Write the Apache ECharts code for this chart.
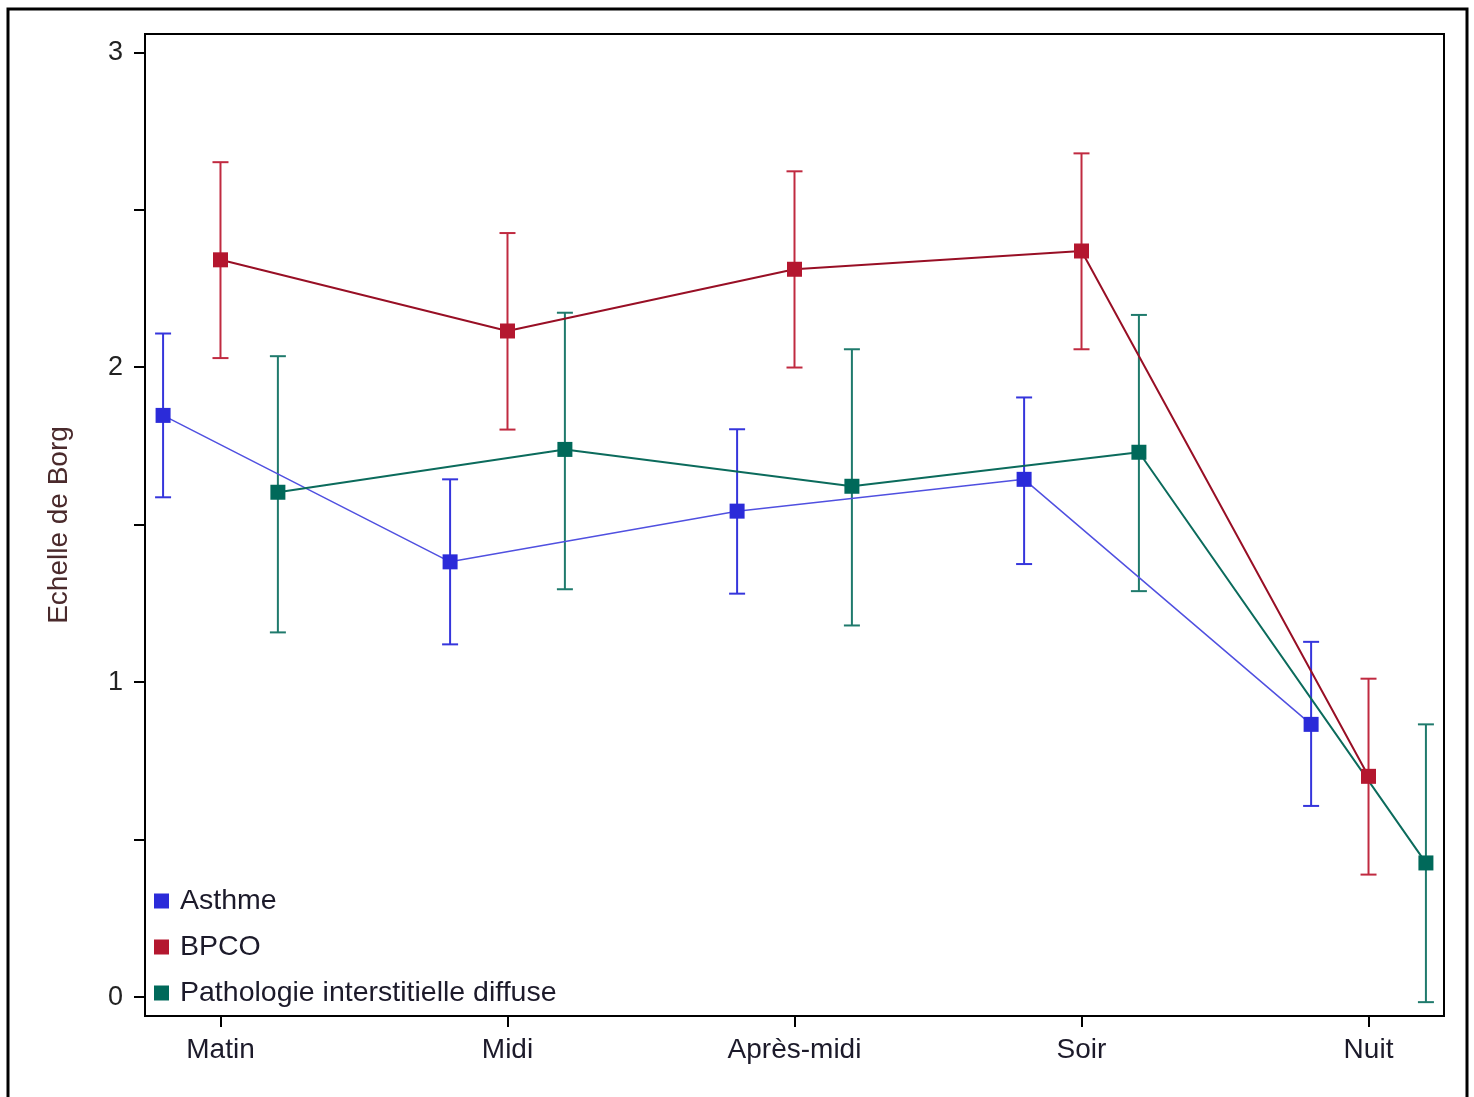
<!DOCTYPE html>
<html>
<head>
<meta charset="utf-8">
<script src="https://cdn.jsdelivr.net/npm/echarts@6/dist/echarts.min.js"></script>
<style>
	html, body { margin: 0; padding: 0; background: #fff; }
	#chart { width: 1474px; height: 1097px; }
</style>
</head>
<body>
<div id="chart"></div>
<script>
// moments de la journée
const categories = ["Matin", "Midi", "Après-midi", "Soir", "Nuit"];
const yTicks = [0, 0.5, 1, 1.5, 2, 2.5, 3];
const yLabels = [0, 1, 2, 3];

// moyennes et intervalles par pathologie
const asthmeMean = [1.847, 1.382, 1.543, 1.644, 0.866];
const asthmeLow = [1.587, 1.120, 1.281, 1.375, 0.607];
const asthmeHigh = [2.107, 1.644, 1.803, 1.904, 1.128];

const bpcoMean = [2.341, 2.115, 2.311, 2.369, 0.701];
const bpcoLow = [2.029, 1.802, 1.999, 2.057, 0.389];
const bpcoHigh = [2.651, 2.426, 2.622, 2.679, 1.011];

const pidMean = [1.603, 1.739, 1.622, 1.730, 0.426];
const pidLow = [1.158, 1.295, 1.180, 1.289, -0.016];
const pidHigh = [2.035, 2.173, 2.057, 2.166, 0.866];

const font = "'Liberation Sans', Arial, sans-serif";
const textColor = "#1c1a2a";

const groups = [
	{name: "Asthme", mean: asthmeMean, low: asthmeLow, high: asthmeHigh, shift: -0.2,
		color: "#2b2bd9", lineColor: "#5050e0", barColor: "#3535dc", lineWidth: 1.5},
	{name: "BPCO", mean: bpcoMean, low: bpcoLow, high: bpcoHigh, shift: 0,
		color: "#b4172f", lineColor: "#980f25", barColor: "#c02a40", lineWidth: 2},
	{name: "Pathologie interstitielle diffuse", mean: pidMean, low: pidLow, high: pidHigh, shift: 0.2,
		color: "#00695a", lineColor: "#0b6b5c", barColor: "#1f7a6c", lineWidth: 2}
];

function errorBars(g) {
	return {
		name: g.name + " IC",
		type: "custom",
		data: g.mean.map((m, i) => [i + g.shift, g.low[i], g.high[i]]),
		renderItem: function (params, api) {
			const top = api.coord([api.value(0), api.value(2)]);
			const bottom = api.coord([api.value(0), api.value(1)]);
			const half = 8;
			const style = {stroke: g.barColor, lineWidth: 2};
			return {
				type: "group",
				children: [
					{type: "line", shape: {x1: top[0], y1: top[1], x2: bottom[0], y2: bottom[1]}, style: style},
					{type: "line", shape: {x1: top[0] - half, y1: top[1], x2: top[0] + half, y2: top[1]}, style: style},
					{type: "line", shape: {x1: bottom[0] - half, y1: bottom[1], x2: bottom[0] + half, y2: bottom[1]}, style: style}
				]
			};
		},
		z: 2
	};
}

function meanLine(g) {
	return {
		name: g.name,
		type: "line",
		data: g.mean.map((m, i) => [i + g.shift, m]),
		symbol: "rect",
		symbolSize: 15,
		itemStyle: {color: g.color},
		lineStyle: {color: g.lineColor, width: g.lineWidth},
		emphasis: {disabled: true},
		z: 3
	};
}

const chart = echarts.init(document.getElementById("chart"));

const option = {
	animation: false,
	backgroundColor: "#fff",
	textStyle: {fontFamily: font},
	graphic: [{
		type: "rect",
		shape: {x: 8, y: 9, width: 1459, height: 1110},
		style: {fill: "none", stroke: "#000", lineWidth: 3},
		silent: true
	}],
	grid: {
		left: 145, top: 34, right: 30, bottom: 81,
		show: true, borderColor: "#000", borderWidth: 2
	},
	legend: {
		orient: "vertical",
		left: 154,
		top: 886,
		padding: 0,
		icon: "rect",
		itemWidth: 15,
		itemHeight: 15,
		itemGap: 16,
		data: groups.map(g => g.name),
		textStyle: {fontSize: 28.5, lineHeight: 30, color: textColor, fontFamily: font, padding: [0, 0, 0, 6]}
	},
	xAxis: {
		type: "value",
		min: -0.263,
		max: 4.263,
		splitLine: {show: false},
		axisLine: {onZero: false, lineStyle: {color: "#000", width: 2}},
		axisTick: {customValues: [0, 1, 2, 3, 4], length: 11, lineStyle: {color: "#000", width: 2}},
		axisLabel: {
			customValues: [0, 1, 2, 3, 4],
			formatter: v => categories[Math.round(v)],
			fontSize: 28, color: textColor, margin: 20, fontFamily: font
		}
	},
	yAxis: {
		type: "value",
		min: -0.06,
		max: 3.058,
		name: "Echelle de Borg",
		nameLocation: "middle",
		nameGap: 72,
		nameTextStyle: {fontSize: 28, color: "#4a2a2c", fontFamily: font},
		splitLine: {show: false},
		axisLine: {onZero: false, lineStyle: {color: "#000", width: 2}},
		axisTick: {customValues: yTicks, length: 11, lineStyle: {color: "#000", width: 2}},
		axisLabel: {customValues: yLabels, fontSize: 27, color: "#222", margin: 22, fontFamily: font}
	},
	series: groups.map(errorBars).concat(groups.map(meanLine))
};

chart.setOption(option);
</script>
</body>
</html>
